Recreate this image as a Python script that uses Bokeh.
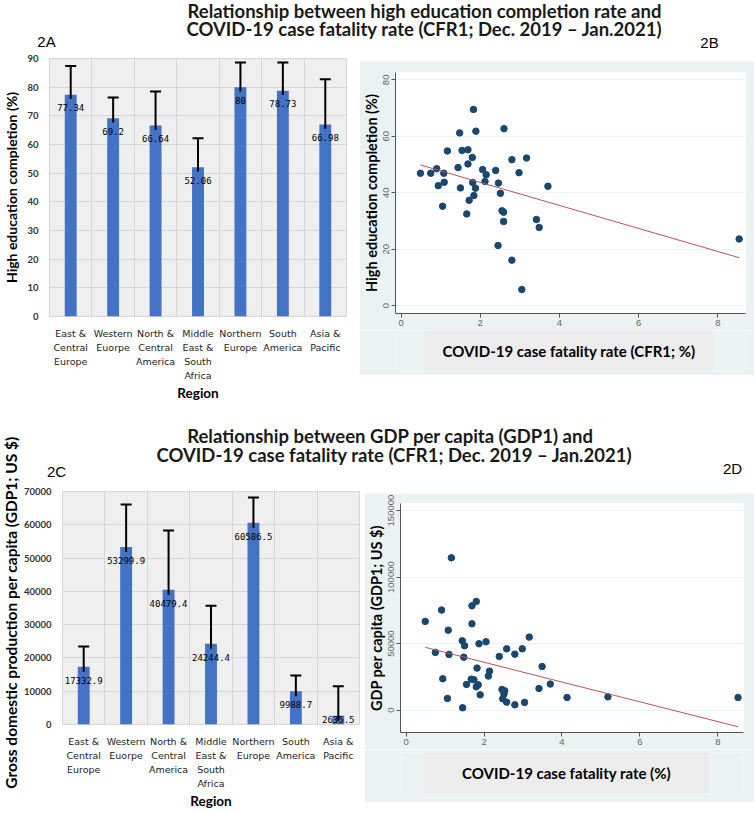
import numpy as np
from bokeh.plotting import figure
from bokeh.layouts import column, row, Spacer
from bokeh.models import (Label, BoxAnnotation, FixedTicker, SingleIntervalTicker,
                          BasicTickFormatter, Range1d)
from bokeh.core.properties import value
from bokeh.embed import file_html
from bokeh.resources import INLINE

# ---------------- data ----------------
regions = ["East &\nCentral\nEurope", "Western\nEuorpe", "North &\nCentral\nAmerica",
           "Middle\nEast &\nSouth\nAfrica", "Northern\nEurope", "South\nAmerica", "Asia &\nPacific"]
edu_mean = [77.34, 69.2, 66.64, 52.06, 80, 78.73, 66.98]
edu_upper = [87.4, 76.4, 78.5, 62.2, 88.6, 88.6, 82.8]
gdp_mean = [17332.9, 53299.9, 40479.4, 24244.4, 60586.5, 9988.7, 2635.5]
gdp_upper = [23400, 66100, 58300, 35700, 68200, 14700, 11500]

cfr_edu = [0.49, 0.75, 0.90, 1.08, 0.94, 1.09, 1.05, 1.17, 1.48, 1.54, 1.69, 1.44, 1.69, 1.80,
           1.83, 1.89, 1.50, 1.81, 1.88, 1.72, 1.84, 1.66, 2.06, 2.15, 2.12, 2.39, 2.46, 2.51,
           2.60, 2.80, 3.17, 2.98, 3.71, 2.55, 2.59, 2.59, 3.42, 3.49, 2.45, 2.80, 3.05, 8.54]
edu_pct = [46.9, 46.9, 48.5, 46.9, 42.5, 43.7, 35.2, 54.8, 61.2, 55.0, 55.2, 48.9, 50.2, 52.5,
           69.5, 61.8, 41.7, 43.6, 41.6, 37.3, 39.0, 32.5, 48.2, 46.4, 44.0, 47.9, 43.4, 39.8,
           62.7, 51.7, 52.3, 47.1, 42.3, 33.6, 33.1, 29.8, 30.5, 27.7, 21.3, 16.1, 5.7, 23.6]

cfr_gdp = [1.16, 0.91, 0.49, 1.08, 1.69, 1.80, 1.69, 1.44, 1.50, 1.87, 2.05, 3.16, 2.58, 2.98,
           2.79, 2.39, 0.75, 1.10, 1.48, 1.82, 2.14, 2.11, 3.49, 0.94, 1.67, 1.74, 1.55, 1.85,
           1.80, 1.90, 2.46, 2.53, 2.51, 2.48, 2.58, 2.79, 3.04, 3.41, 3.70, 4.13, 1.06, 1.45,
           5.18, 8.52]
gdp_pc = [114500, 75200, 66700, 60100, 78400, 81700, 64900, 52100, 48400, 49900, 51400, 54900,
          46100, 46100, 42100, 40400, 43400, 41900, 39800, 31600, 29300, 25600, 32800, 23600,
          23300, 22800, 19300, 19100, 17500, 11500, 15500, 14500, 12000, 8500, 6000, 4000,
          5800, 16300, 19600, 9500, 8800, 1800, 10000, 9500]

TITLE_FONT = "Lato"
BAR_BLUE = "#4472c4"
STATA_BG = "#eaf2f3"
NAVY = "#1a476f"


def blank_fig(width, height, bg="white"):
    p = figure(width=width, height=height, x_range=Range1d(0, width), y_range=Range1d(0, height),
               x_axis_type=None, y_axis_type=None, toolbar_location=None, output_backend="svg",
               min_border=0)
    p.outline_line_color = None
    p.grid.visible = False
    p.background_fill_color = bg
    p.border_fill_color = bg
    return p


def add_text(p, x, y, text, size, bold=True, font=TITLE_FONT, color="#1a1a1a", angle=0.0,
             units="screen"):
    p.add_layout(Label(x=x, y=y, x_units=units, y_units=units, text=text,
                       text_align="center", text_baseline="middle", text_font=font,
                       text_font_style="bold" if bold else "normal", angle=angle,
                       text_font_size=size, text_color=color))


def bar_panel(width, height, borders, means, uppers, ymax, ystep, ylabel, ext, off, floor):
    n = len(regions)
    xs = list(range(1, n + 1))
    p = figure(width=width, height=height, x_range=Range1d(0.5, n + 0.5),
               y_range=Range1d(0, ymax), toolbar_location=None, output_backend="svg",
               min_border_left=borders[0], min_border_right=borders[1],
               min_border_top=borders[2], min_border_bottom=borders[3])
    p.background_fill_color = "#efefef"
    p.border_fill_color = "white"
    p.outline_line_color = "#d6d6d6"
    p.vbar(x=xs, top=means, width=0.28, fill_color=BAR_BLUE, line_color=None)
    p.segment(x0=xs, y0=[m - ext for m in means], x1=xs, y1=uppers,
              line_color="black", line_width=2)
    p.scatter(x=xs, y=uppers, marker="dash", size=11, line_color="black", line_width=2)
    p.text(x=xs, y=[max(m - off, floor) for m in means], text=['{:g}'.format(v) for v in means],
           text_align="center", text_baseline="middle", text_font=value("DejaVu Sans Mono"),
           text_font_size="9px", text_color="black")
    p.xaxis.ticker = FixedTicker(ticks=xs)
    p.xaxis.major_label_overrides = {x: r for x, r in zip(xs, regions)}
    p.xgrid.ticker = FixedTicker(ticks=[i + 0.5 for i in range(n + 1)])
    p.yaxis.ticker = SingleIntervalTicker(interval=ystep)
    p.yaxis.formatter = BasicTickFormatter(use_scientific=False)
    p.grid.grid_line_color = "#d6d6d6"
    for ax in (p.xaxis[0], p.yaxis[0]):
        ax.axis_line_color = None
        ax.major_tick_line_color = None
        ax.minor_tick_line_color = None
        ax.axis_label_text_font = TITLE_FONT
        ax.axis_label_text_font_style = "bold"
        ax.axis_label_text_font_size = "14px"
        ax.axis_label_text_color = "black"
    p.yaxis.major_label_text_font = TITLE_FONT
    p.yaxis.major_label_text_font_style = "bold"
    p.yaxis.major_label_text_font_size = "9.5px"
    p.yaxis.major_label_text_color = "#333333"
    p.yaxis.major_label_standoff = 5
    if ylabel:
        p.yaxis.axis_label = ylabel
        p.yaxis.axis_label_standoff = 4
    p.xaxis.axis_label = "Region"
    p.xaxis.axis_label_text_font_size = "13.5px"
    p.xaxis.major_label_text_font = "DejaVu Sans"
    p.xaxis.major_label_text_font_size = "9.5px"
    p.xaxis.major_label_text_color = "#222222"
    p.xaxis.major_label_text_line_height = 1.3
    p.xaxis.major_label_standoff = 5
    p.xaxis.axis_label_standoff = 1
    return p


def scatter_panel(width, height, borders, xv, yv, xr, yr, ystep, ylabel):
    p = figure(width=width, height=height, x_range=Range1d(*xr), y_range=Range1d(*yr),
               toolbar_location=None, output_backend="svg",
               min_border_left=borders[0], min_border_right=borders[1],
               min_border_top=borders[2], min_border_bottom=borders[3])
    p.border_fill_color = STATA_BG
    p.background_fill_color = "white"
    p.outline_line_color = None
    p.xgrid.visible = False
    p.ygrid.grid_line_color = STATA_BG
    p.ygrid.grid_line_width = 1.2
    p.scatter(x=xv, y=yv, size=6.5, fill_color=NAVY, line_color=NAVY)
    slope, icpt = np.polyfit(np.array(xv), np.array(yv), 1)
    fx = [min(xv), max(xv)]
    p.line(x=fx, y=[icpt + slope * v for v in fx], line_color="#b8555a", line_width=1)
    p.xaxis.ticker = SingleIntervalTicker(interval=2)
    p.yaxis.ticker = SingleIntervalTicker(interval=ystep)
    p.yaxis.formatter = BasicTickFormatter(use_scientific=False)
    p.yaxis.major_label_orientation = "parallel"
    for ax in (p.xaxis[0], p.yaxis[0]):
        ax.axis_line_color = "#555555"
        ax.major_tick_line_color = "#555555"
        ax.major_tick_out = 4
        ax.major_tick_in = 0
        ax.minor_tick_line_color = None
        ax.major_label_text_font = "Liberation Sans"
        ax.major_label_text_font_size = "9.5px"
        ax.major_label_text_color = "#666666"
        ax.major_label_standoff = 2
    p.yaxis.axis_label = ylabel
    p.yaxis.axis_label_text_font = TITLE_FONT
    p.yaxis.axis_label_text_font_style = "bold"
    p.yaxis.axis_label_text_font_size = "14.5px"
    p.yaxis.axis_label_text_color = "black"
    p.yaxis.axis_label_standoff = 1
    return p


def xlabel_box(width, height, borders, box_lr, text):
    # frame edges are aligned with the scatter panel above (same left/right borders)
    fw = width - borders[0] - borders[1]
    b = figure(width=width, height=height, x_range=Range1d(0, fw), y_range=Range1d(0, 1),
               x_axis_type=None, y_axis_type=None, toolbar_location=None, output_backend="svg",
               min_border_left=borders[0], min_border_right=borders[1],
               min_border_top=borders[2], min_border_bottom=borders[3])
    b.outline_line_color = None
    b.grid.visible = False
    b.background_fill_color = STATA_BG
    b.border_fill_color = STATA_BG
    b.add_layout(BoxAnnotation(left=box_lr[0], right=box_lr[1], fill_color="#ececec",
                               fill_alpha=1.0, line_color=None, level="underlay"))
    add_text(b, (box_lr[0] + box_lr[1]) / 2, 0.5, text, "15px", color="black", units="data")
    return b


# ---------------- titles ----------------
t1 = blank_fig(754, 52)
add_text(t1, 424, 42, "Relationship between high education completion rate and", "18.5px")
add_text(t1, 424, 24, "COVID-19 case fatality rate (CFR1; Dec. 2019 \u2013 Jan.2021)", "18.5px")
add_text(t1, 46, 11, "2A", "15px", bold=False, font="Liberation Sans", color="black")
add_text(t1, 709, 10, "2B", "15px", bold=False, font="Liberation Sans", color="black")

t2 = blank_fig(734, 75)
add_text(t2, 370, 50, "Relationship between GDP per capita (GDP1) and", "18.5px")
add_text(t2, 374, 31, "COVID-19 case fatality rate (CFR1; Dec. 2019 \u2013 Jan.2021)", "18.5px")
add_text(t2, 36, 14, "2C", "15px", bold=False, font="Liberation Sans", color="black")
add_text(t2, 712, 17, "2D", "15px", bold=False, font="Liberation Sans", color="black")

ylab_c = blank_fig(20, 402)
add_text(ylab_c, 10, 200, "Gross domestic production per capita (GDP1; US $)", "15.5px",
         color="black", angle=np.pi / 2)

# ---------------- panels ----------------
p2a = bar_panel(359, 358, (44, 13, 6, 94), edu_mean, edu_upper, 90, 10,
                "High education completion (%)", 1.5, 4.5, 1.8)
p2c = bar_panel(344, 327, (41, 5, 6, 86), gdp_mean, gdp_upper, 70000, 10000,
                None, 1500, 4000, 1500)

p2b = scatter_panel(395, 269, (33, 9, 11, 17), cfr_edu, edu_pct, (-0.14, 8.7), (-2.8, 82.6), 20,
                    "High education completion (%)")
box_b = xlabel_box(395, 45, (33, 9, 0, 5), (30, 320), "COVID-19 case fatality rate (CFR1; %)")

p2d = scatter_panel(390, 256, (32, 11, 10, 17), cfr_gdp, gdp_pc, (-0.145, 8.66),
                    (-16800, 155300), 50000, "GDP per capita (GDP1; US $)")
box_d = xlabel_box(390, 53, (32, 11, 3, 9), (24, 312), "COVID-19 case fatality rate (%)")

layout = column(
    t1,
    row(p2a, column(Spacer(width=395, height=9), p2b, box_b)),
    row(ylab_c, column(t2, row(p2c, column(Spacer(width=390, height=8), p2d, box_d,
                                               Spacer(width=390, height=10))))),
)

open("out.html", "w").write(file_html(layout, INLINE))
